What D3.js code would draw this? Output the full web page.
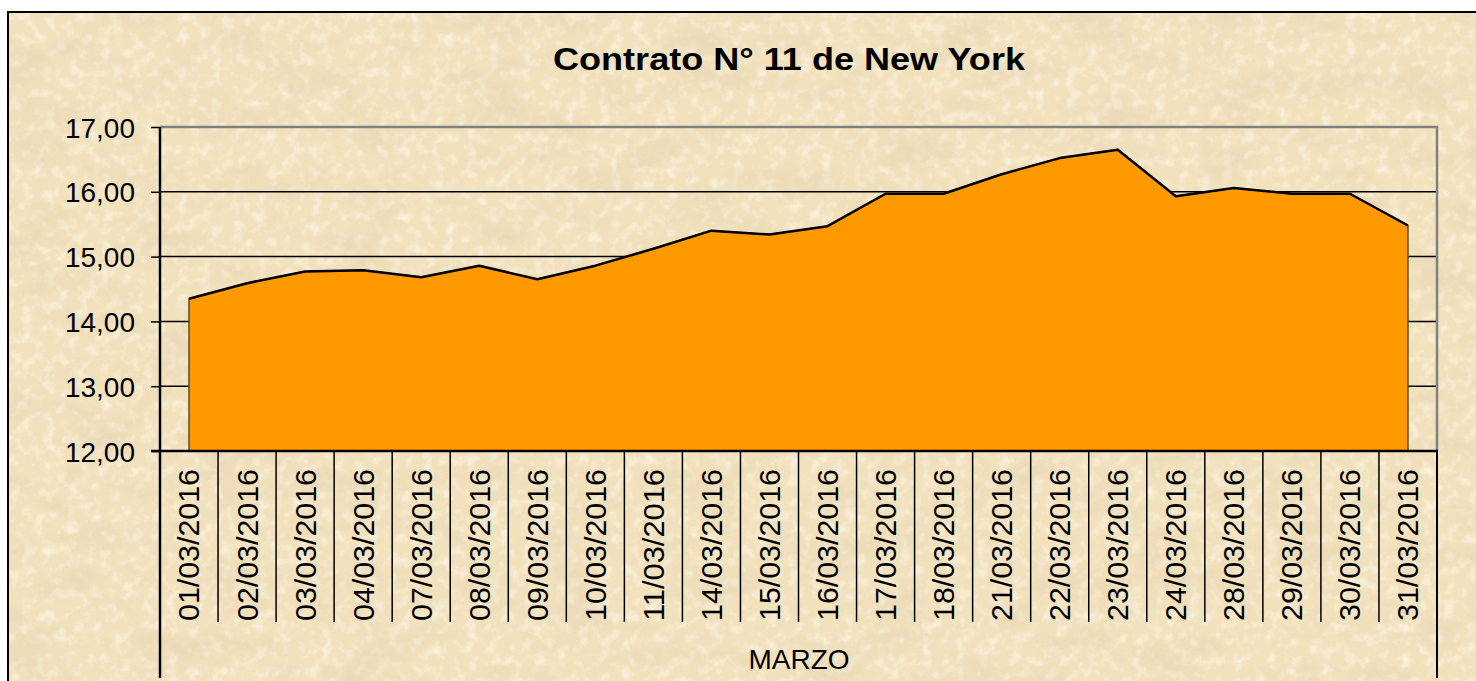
<!DOCTYPE html>
<html>
<head>
<meta charset="utf-8">
<script src="https://cdn.jsdelivr.net/npm/d3@7"></script>
<style>
  html, body { margin: 0; padding: 0; background: #fff; }
  svg { display: block; }
  text { font-family: "Liberation Sans", Arial, sans-serif; fill: #000; }
</style>
</head>
<body>
<svg id="chart" width="1476" height="681"></svg>
<script>
// chart data
const title = 'Contrato N° 11 de New York';
const groupLabel = 'MARZO';
const dates = ['01/03/2016', '02/03/2016', '03/03/2016', '04/03/2016', '07/03/2016', '08/03/2016',
  '09/03/2016', '10/03/2016', '11/03/2016', '14/03/2016', '15/03/2016', '16/03/2016',
  '17/03/2016', '18/03/2016', '21/03/2016', '22/03/2016', '23/03/2016', '24/03/2016',
  '28/03/2016', '29/03/2016', '30/03/2016', '31/03/2016'];
const prices = [14.35, 14.59, 14.77, 14.79, 14.68, 14.86,
  14.65, 14.86, 15.12, 15.40, 15.34, 15.47,
  15.97, 15.97, 16.27, 16.52, 16.65, 15.93,
  16.06, 15.97, 15.97, 15.48];
const yTicks = [12, 13, 14, 15, 16, 17];

const svg = d3.select('#chart');
const plot = { left: 160, right: 1437, top: 127, bottom: 451 };

// parchment background
const defs = svg.append('defs');
const paper = defs.append('filter').attr('id', 'paper')
  .attr('x', 0).attr('y', 0).attr('width', '100%').attr('height', '100%');
paper.append('feTurbulence')
  .attr('type', 'fractalNoise')
  .attr('baseFrequency', '0.015 0.03')
  .attr('numOctaves', 5)
  .attr('seed', 7);
paper.append('feColorMatrix')
  .attr('type', 'matrix')
  .attr('values', '0 0 0 0 0.78  0 0 0 0 0.65  0 0 0 0 0.44  2.2 0 0 0 -1.0');

const grain = defs.append('filter').attr('id', 'grain')
  .attr('x', 0).attr('y', 0).attr('width', '100%').attr('height', '100%');
grain.append('feTurbulence')
  .attr('type', 'fractalNoise')
  .attr('baseFrequency', '0.09')
  .attr('numOctaves', 3)
  .attr('seed', 2);
grain.append('feColorMatrix')
  .attr('type', 'matrix')
  .attr('values', '0 0 0 0 1  0 0 0 0 0.97  0 0 0 0 0.88  2.0 0 0 0 -0.95');

svg.append('rect')
  .attr('x', 8).attr('y', 12).attr('width', 1476 - 8).attr('height', 681 - 12)
  .attr('fill', '#f2e1bd');
svg.append('rect')
  .attr('x', 8).attr('y', 12).attr('width', 1476 - 8).attr('height', 681 - 12)
  .attr('filter', 'url(#grain)')
  .attr('opacity', 0.8);
svg.append('rect')
  .attr('x', 8).attr('y', 12).attr('width', 1476 - 8).attr('height', 681 - 12)
  .attr('filter', 'url(#paper)')
  .attr('opacity', 0.6);

// outer frame (top and left edges visible)
svg.append('path')
  .attr('d', 'M8,681 V12 H1476')
  .attr('fill', 'none')
  .attr('stroke', '#000')
  .attr('stroke-width', 2);

// scales
const x = d3.scaleBand()
  .domain(dates)
  .range([plot.left, plot.right]);
const y = d3.scaleLinear()
  .domain([12, 17])
  .range([plot.bottom, plot.top]);
const cx = d => x(d) + x.bandwidth() / 2;

// gridlines
svg.append('g')
  .selectAll('line')
  .data(yTicks.slice(1, -1))
  .join('line')
    .attr('x1', plot.left).attr('x2', plot.right)
    .attr('y1', d => y(d)).attr('y2', d => y(d))
    .attr('stroke', '#000')
    .attr('stroke-width', 1.5);

// plot border top + right in gray
svg.append('path')
  .attr('d', `M${plot.left},${plot.top} H${plot.right} V${plot.bottom}`)
  .attr('fill', 'none')
  .attr('stroke', '#808080')
  .attr('stroke-width', 2.5);

// area
const area = d3.area()
  .x((d, i) => cx(dates[i]))
  .y0(y(12))
  .y1(d => y(d));
const line = d3.line()
  .x((d, i) => cx(dates[i]))
  .y(d => y(d));

svg.append('path')
  .datum(prices)
  .attr('d', area)
  .attr('fill', '#ff9900')
  .attr('stroke', '#5a4a30')
  .attr('stroke-width', 1.5);
svg.append('path')
  .datum(prices)
  .attr('d', line)
  .attr('fill', 'none')
  .attr('stroke', '#000')
  .attr('stroke-width', 2.5)
  .attr('stroke-linejoin', 'round');

// y axis
const yAxis = svg.append('g')
  .attr('transform', `translate(${plot.left},0)`)
  .call(d3.axisLeft(y)
    .tickValues(yTicks)
    .tickSize(9)
    .tickPadding(16)
    .tickFormat(d => d3.format('.2f')(d).replace('.', ',')));
yAxis.select('.domain').remove();
yAxis.selectAll('.tick line').attr('stroke', '#000').attr('stroke-width', 1.5);
yAxis.selectAll('.tick text')
  .attr('font-family', '"Liberation Sans", Arial, sans-serif')
  .attr('font-size', 28)
  .attr('dy', '0.36em');

// left axis line, runs down through the category area
svg.append('line')
  .attr('x1', plot.left).attr('x2', plot.left)
  .attr('y1', plot.top).attr('y2', 678)
  .attr('stroke', '#000').attr('stroke-width', 2.5);
// right outer category line
svg.append('line')
  .attr('x1', plot.right).attr('x2', plot.right)
  .attr('y1', plot.bottom).attr('y2', 678)
  .attr('stroke', '#000').attr('stroke-width', 2);
// x axis line
svg.append('line')
  .attr('x1', 151).attr('x2', plot.right + 1)
  .attr('y1', plot.bottom).attr('y2', plot.bottom)
  .attr('stroke', '#000').attr('stroke-width', 2.5);

// category dividers
svg.append('g')
  .selectAll('line')
  .data(dates.slice(1))
  .join('line')
    .attr('x1', d => x(d)).attr('x2', d => x(d))
    .attr('y1', plot.bottom).attr('y2', 622)
    .attr('stroke', '#000')
    .attr('stroke-width', 1.5);

// category labels (rotated)
svg.append('g')
  .selectAll('text')
  .data(dates)
  .join('text')
    .attr('transform', d => `translate(${cx(d)},469) rotate(-90)`)
    .attr('text-anchor', 'end')
    .attr('dy', '0.36em')
    .attr('font-size', 29)
    .attr('textLength', 152)
    .attr('lengthAdjust', 'spacingAndGlyphs')
    .text(d => d);

// group label
svg.append('text')
  .attr('x', 799)
  .attr('y', 669)
  .attr('text-anchor', 'middle')
  .attr('font-size', 28)
  .text(groupLabel);

// title
svg.append('text')
  .attr('x', 789)
  .attr('y', 70)
  .attr('text-anchor', 'middle')
  .attr('font-size', 31)
  .attr('font-weight', 'bold')
  .attr('textLength', 472)
  .attr('lengthAdjust', 'spacingAndGlyphs')
  .text(title);
</script>
</body>
</html>
